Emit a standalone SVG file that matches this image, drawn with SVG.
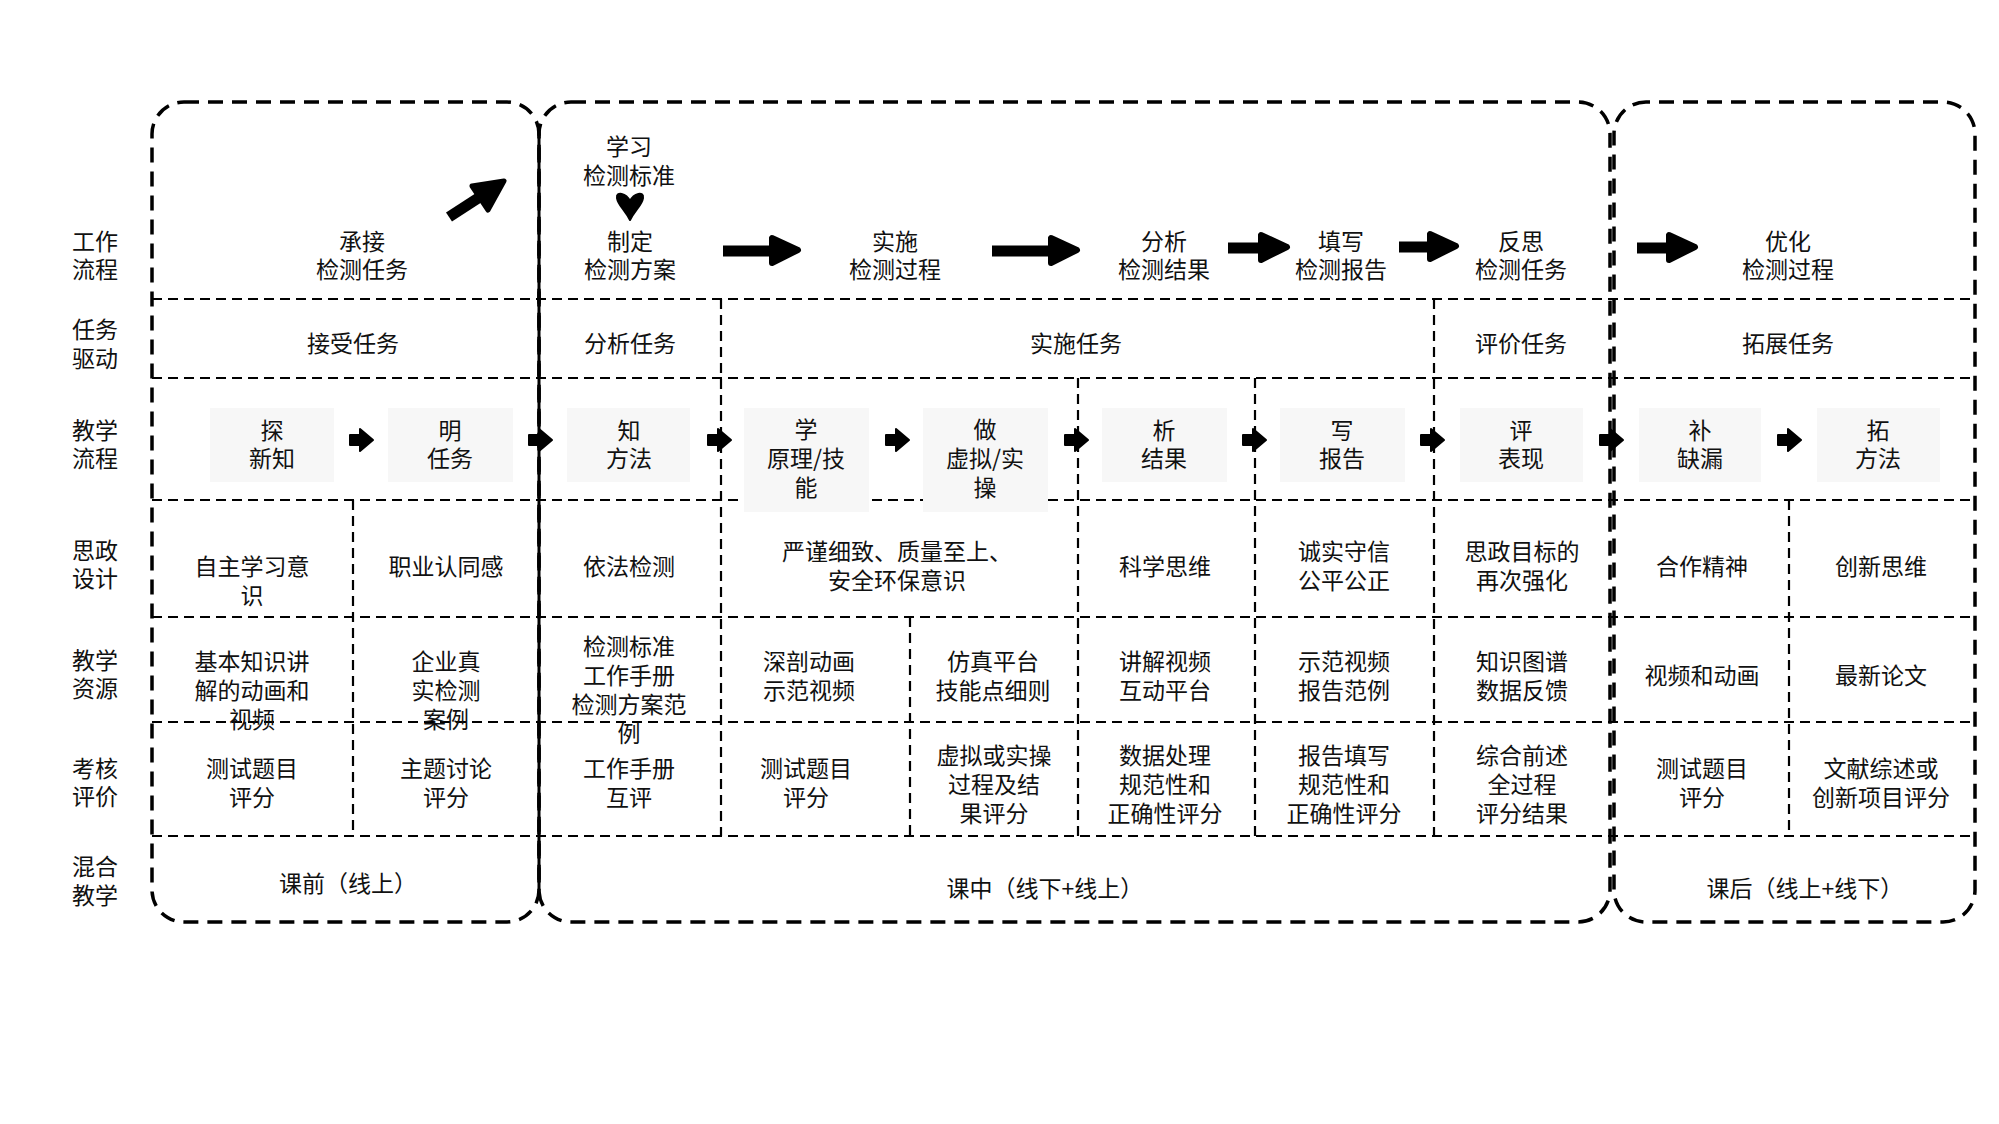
<svg xmlns="http://www.w3.org/2000/svg" width="1999" height="1124" viewBox="0 0 1999 1124">
<defs>
<style>
.t{font-family:"Noto Sans CJK SC","Noto Sans",sans-serif;font-size:23px;fill:#111;text-anchor:middle}
.box{fill:none;stroke:#000;stroke-width:3.5;stroke-dasharray:15 9}
.grid{fill:none;stroke:#000;stroke-width:2.2;stroke-dasharray:10 6}
.gray{fill:#f7f7f7}
.arr{fill:#000;stroke:#000;stroke-linejoin:round}
.shaft{stroke:#000;stroke-width:11;fill:none}
</style>
</defs>
<rect width="1999" height="1124" fill="#fff"/>

<g id="frames">
<rect class="box" x="152" y="102" width="387" height="820" rx="32"/>
<rect class="box" x="539" y="102" width="1071" height="820" rx="32"/>
<rect class="box" x="1614" y="102" width="361" height="820" rx="32" style="stroke-dashoffset:11"/>
<line x1="539" y1="132" x2="539" y2="892" stroke="#000" stroke-width="3"/>
</g>

<g id="grid">
<line class="grid" x1="152" y1="299" x2="1975" y2="299"/>
<line class="grid" x1="152" y1="378" x2="1975" y2="378"/>
<line class="grid" x1="152" y1="500" x2="1975" y2="500"/>
<line class="grid" x1="152" y1="617" x2="1975" y2="617"/>
<line class="grid" x1="152" y1="722" x2="1975" y2="722"/>
<line class="grid" x1="152" y1="836" x2="1975" y2="836"/>
<line class="grid" x1="353" y1="500" x2="353" y2="836"/>
<line class="grid" x1="721" y1="299" x2="721" y2="836"/>
<line class="grid" x1="910" y1="617" x2="910" y2="836"/>
<line class="grid" x1="1078" y1="378" x2="1078" y2="836"/>
<line class="grid" x1="1255" y1="378" x2="1255" y2="836"/>
<line class="grid" x1="1434" y1="299" x2="1434" y2="836"/>
<line class="grid" x1="1789" y1="500" x2="1789" y2="836"/>
</g>

<g id="row-labels">
<text class="t" x="95" y="250">工作<tspan x="95" dy="28">流程</tspan></text>
<text class="t" x="95" y="338">任务<tspan x="95" dy="29">驱动</tspan></text>
<text class="t" x="95" y="439">教学<tspan x="95" dy="28">流程</tspan></text>
<text class="t" x="95" y="559">思政<tspan x="95" dy="28">设计</tspan></text>
<text class="t" x="95" y="669">教学<tspan x="95" dy="28">资源</tspan></text>
<text class="t" x="95" y="777">考核<tspan x="95" dy="28">评价</tspan></text>
<text class="t" x="95" y="875">混合<tspan x="95" dy="29">教学</tspan></text>
</g>

<g id="work-1"><text class="t" x="362" y="250">承接<tspan x="362" dy="28">检测任务</tspan></text></g>
<g id="work-learn"><text class="t" x="629" y="155">学习<tspan x="629" dy="29">检测标准</tspan></text></g>
<g id="work-2"><text class="t" x="630" y="250">制定<tspan x="630" dy="28">检测方案</tspan></text></g>
<g id="work-3"><text class="t" x="895" y="250">实施<tspan x="895" dy="28">检测过程</tspan></text></g>
<g id="work-4"><text class="t" x="1164" y="250">分析<tspan x="1164" dy="28">检测结果</tspan></text></g>
<g id="work-5"><text class="t" x="1341" y="250">填写<tspan x="1341" dy="28">检测报告</tspan></text></g>
<g id="work-6"><text class="t" x="1521" y="250">反思<tspan x="1521" dy="28">检测任务</tspan></text></g>
<g id="work-7"><text class="t" x="1788" y="250">优化<tspan x="1788" dy="28">检测过程</tspan></text></g>

<g id="task-1"><text class="t" x="353" y="352">接受任务</text></g>
<g id="task-2"><text class="t" x="630" y="352">分析任务</text></g>
<g id="task-3"><text class="t" x="1076" y="352">实施任务</text></g>
<g id="task-4"><text class="t" x="1521" y="352">评价任务</text></g>
<g id="task-5"><text class="t" x="1788" y="352">拓展任务</text></g>

<g id="step-1"><rect class="gray" x="210" y="408" width="124" height="74"/><text class="t" x="272" y="439">探<tspan x="272" dy="28">新知</tspan></text></g>
<g id="step-2"><rect class="gray" x="388" y="408" width="125" height="74"/><text class="t" x="450" y="439">明<tspan x="450" dy="28">任务</tspan></text></g>
<g id="step-3"><rect class="gray" x="567" y="408" width="123" height="74"/><text class="t" x="629" y="439">知<tspan x="629" dy="28">方法</tspan></text></g>
<g id="step-4"><rect class="gray" x="744" y="408" width="125" height="104"/><text class="t" x="806" y="438">学<tspan x="806" dy="29">原理/技</tspan><tspan x="806" dy="29">能</tspan></text></g>
<g id="step-5"><rect class="gray" x="923" y="408" width="125" height="104"/><text class="t" x="985" y="438">做<tspan x="985" dy="29">虚拟/实</tspan><tspan x="985" dy="29">操</tspan></text></g>
<g id="step-6"><rect class="gray" x="1102" y="408" width="125" height="74"/><text class="t" x="1164" y="439">析<tspan x="1164" dy="28">结果</tspan></text></g>
<g id="step-7"><rect class="gray" x="1280" y="408" width="125" height="74"/><text class="t" x="1342" y="439">写<tspan x="1342" dy="28">报告</tspan></text></g>
<g id="step-8"><rect class="gray" x="1460" y="408" width="123" height="74"/><text class="t" x="1521" y="439">评<tspan x="1521" dy="28">表现</tspan></text></g>
<g id="step-9"><rect class="gray" x="1639" y="408" width="122" height="74"/><text class="t" x="1700" y="439">补<tspan x="1700" dy="28">缺漏</tspan></text></g>
<g id="step-10"><rect class="gray" x="1817" y="408" width="123" height="74"/><text class="t" x="1878" y="439">拓<tspan x="1878" dy="28">方法</tspan></text></g>

<g id="sz-1"><text class="t" x="252" y="575">自主学习意<tspan x="252" dy="29">识</tspan></text></g>
<g id="sz-2"><text class="t" x="446" y="575">职业认同感</text></g>
<g id="sz-3"><text class="t" x="629" y="575">依法检测</text></g>
<g id="sz-4"><text class="t" x="897" y="560">严谨细致、质量至上、<tspan x="897" dy="29">安全环保意识</tspan></text></g>
<g id="sz-5"><text class="t" x="1165" y="575">科学思维</text></g>
<g id="sz-6"><text class="t" x="1344" y="560">诚实守信<tspan x="1344" dy="29">公平公正</tspan></text></g>
<g id="sz-7"><text class="t" x="1522" y="560">思政目标的<tspan x="1522" dy="29">再次强化</tspan></text></g>
<g id="sz-8"><text class="t" x="1702" y="575">合作精神</text></g>
<g id="sz-9"><text class="t" x="1881" y="575">创新思维</text></g>

<g id="res-1"><text class="t" x="252" y="670">基本知识讲<tspan x="252" dy="29">解的动画和</tspan><tspan x="252" dy="29">视频</tspan></text></g>
<g id="res-2"><text class="t" x="446" y="670">企业真<tspan x="446" dy="29">实检测</tspan><tspan x="446" dy="29">案例</tspan></text></g>
<g id="res-3"><text class="t" x="629" y="655">检测标准<tspan x="629" dy="29">工作手册</tspan><tspan x="629" dy="29">检测方案范</tspan><tspan x="629" dy="29">例</tspan></text></g>
<g id="res-4"><text class="t" x="809" y="670">深剖动画<tspan x="809" dy="29">示范视频</tspan></text></g>
<g id="res-5"><text class="t" x="993" y="670">仿真平台<tspan x="993" dy="29">技能点细则</tspan></text></g>
<g id="res-6"><text class="t" x="1165" y="670">讲解视频<tspan x="1165" dy="29">互动平台</tspan></text></g>
<g id="res-7"><text class="t" x="1344" y="670">示范视频<tspan x="1344" dy="29">报告范例</tspan></text></g>
<g id="res-8"><text class="t" x="1522" y="670">知识图谱<tspan x="1522" dy="29">数据反馈</tspan></text></g>
<g id="res-9"><text class="t" x="1702" y="684">视频和动画</text></g>
<g id="res-10"><text class="t" x="1881" y="684">最新论文</text></g>

<g id="ev-1"><text class="t" x="252" y="777">测试题目<tspan x="252" dy="29">评分</tspan></text></g>
<g id="ev-2"><text class="t" x="446" y="777">主题讨论<tspan x="446" dy="29">评分</tspan></text></g>
<g id="ev-3"><text class="t" x="629" y="777">工作手册<tspan x="629" dy="29">互评</tspan></text></g>
<g id="ev-4"><text class="t" x="806" y="777">测试题目<tspan x="806" dy="29">评分</tspan></text></g>
<g id="ev-5"><text class="t" x="994" y="764">虚拟或实操<tspan x="994" dy="29">过程及结</tspan><tspan x="994" dy="29">果评分</tspan></text></g>
<g id="ev-6"><text class="t" x="1165" y="764">数据处理<tspan x="1165" dy="29">规范性和</tspan><tspan x="1165" dy="29">正确性评分</tspan></text></g>
<g id="ev-7"><text class="t" x="1344" y="764">报告填写<tspan x="1344" dy="29">规范性和</tspan><tspan x="1344" dy="29">正确性评分</tspan></text></g>
<g id="ev-8"><text class="t" x="1522" y="764">综合前述<tspan x="1522" dy="29">全过程</tspan><tspan x="1522" dy="29">评分结果</tspan></text></g>
<g id="ev-9"><text class="t" x="1702" y="777">测试题目<tspan x="1702" dy="29">评分</tspan></text></g>
<g id="ev-10"><text class="t" x="1881" y="777">文献综述或<tspan x="1881" dy="29">创新项目评分</tspan></text></g>

<g id="mix-1"><text class="t" x="348" y="892">课前（线上）</text></g>
<g id="mix-2"><text class="t" x="1045" y="897">课中（线下+线上）</text></g>
<g id="mix-3"><text class="t" x="1805" y="897">课后（线上+线下）</text></g>

<g id="connectors">
<line class="shaft" x1="449" y1="217" x2="486" y2="193"/>
<path class="arr" stroke-width="5" d="M504,181 L472,186 L488,210 Z"/>
<path class="arr" stroke-width="2" d="M630,201 C626,193 616,191 617,198 C618,205 625,210 630,220 C635,210 642,205 643,198 C644,191 634,193 630,201 Z"/>
<line class="shaft" x1="723" y1="251" x2="780" y2="251"/>
<path class="arr" stroke-width="6" d="M798,250 L772,238 L772,263 Z"/>
<line class="shaft" x1="992" y1="251" x2="1058" y2="251"/>
<path class="arr" stroke-width="6" d="M1077,250 L1051,238 L1051,263 Z"/>
<line class="shaft" x1="1228" y1="248" x2="1270" y2="248"/>
<path class="arr" stroke-width="6" d="M1287,247 L1261,235 L1261,260 Z"/>
<line class="shaft" x1="1399" y1="247" x2="1440" y2="247"/>
<path class="arr" stroke-width="6" d="M1456,246 L1430,234 L1430,259 Z"/>
<line class="shaft" x1="1637" y1="248" x2="1678" y2="248"/>
<path class="arr" stroke-width="6" d="M1695,247 L1669,235 L1669,260 Z"/>
<path class="arr" stroke-width="2" d="M350,435 h10 v-6 l13,11 l-13,11 v-6 h-10 z"/>
<path class="arr" stroke-width="2" d="M529,435 h10 v-6 l13,11 l-13,11 v-6 h-10 z"/>
<path class="arr" stroke-width="2" d="M708,435 h10 v-6 l13,11 l-13,11 v-6 h-10 z"/>
<path class="arr" stroke-width="2" d="M886,435 h10 v-6 l13,11 l-13,11 v-6 h-10 z"/>
<path class="arr" stroke-width="2" d="M1065,435 h10 v-6 l13,11 l-13,11 v-6 h-10 z"/>
<path class="arr" stroke-width="2" d="M1243,435 h10 v-6 l13,11 l-13,11 v-6 h-10 z"/>
<path class="arr" stroke-width="2" d="M1421,435 h10 v-6 l13,11 l-13,11 v-6 h-10 z"/>
<path class="arr" stroke-width="2" d="M1600,435 h10 v-6 l13,11 l-13,11 v-6 h-10 z"/>
<path class="arr" stroke-width="2" d="M1778,435 h10 v-6 l13,11 l-13,11 v-6 h-10 z"/>
</g>
</svg>
